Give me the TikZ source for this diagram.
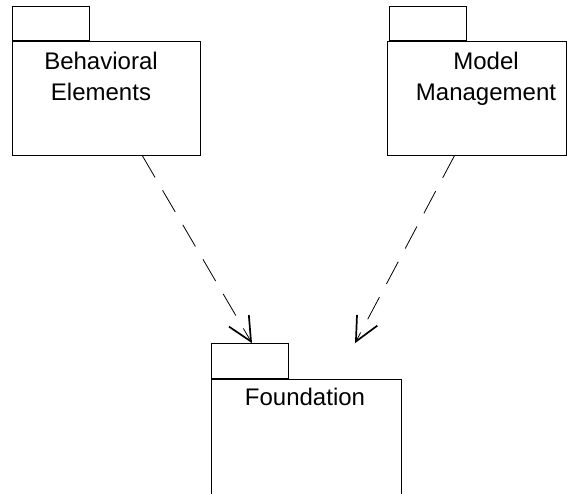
\documentclass[tikz,border=0pt]{standalone}
\usepackage{fontspec}
\setmainfont{Liberation Sans}
\usetikzlibrary{arrows.meta}

\begin{document}
\begin{tikzpicture}[x=1pt, y=-1pt,
    pkgbody/.style={draw, line width=0.8pt, inner sep=0pt, anchor=north west},
    pkgtab/.style={draw, line width=0.8pt, inner sep=0pt, minimum width=77pt, minimum height=34pt, anchor=south west},
    pkgname/.style={font=\fontsize{24}{31}\selectfont, align=center, anchor=base, inner sep=0pt},
    depend/.style={dash pattern=on 25pt off 15pt, line width=0.8pt, -{Straight Barb[length=24pt, width=23pt, line width=1.7pt]}}]
    \clip (0,0) rectangle (570,493);

    % Behavioral Elements package
    \node[pkgbody, minimum width=188pt, minimum height=114pt] (behav) at (12,41) {};
    \node[pkgtab] (behavtab) at (behav.north west) {};
    \node[pkgname] (behavname) at (101,100) {Behavioral\\Elements};

    % Model Management package
    \node[pkgbody, minimum width=179pt, minimum height=114pt] (model) at (387,41) {};
    \node[pkgtab] (modeltab) at ([xshift=2pt]model.north west) {};
    \node[pkgname] (modelname) at (486,100) {Model\\Management};

    % Foundation package (cut off at the bottom)
    \node[pkgbody, minimum width=190pt, minimum height=140pt] (found) at (211,379) {};
    \node[pkgtab, minimum height=35pt] (foundtab) at (found.north west) {};
    \node[pkgname] (foundname) at (305,405) {Foundation};

    % Dependencies
    \coordinate (behavend) at ([xshift=41pt]foundtab.north west);
    \coordinate (modelend) at ([xshift=144pt]foundtab.north west);
    \draw[depend] ([xshift=36pt]behav.south) -- (behavend);
    \draw[depend] ([xshift=-22.5pt]model.south) -- (modelend);
\end{tikzpicture}
\end{document}
